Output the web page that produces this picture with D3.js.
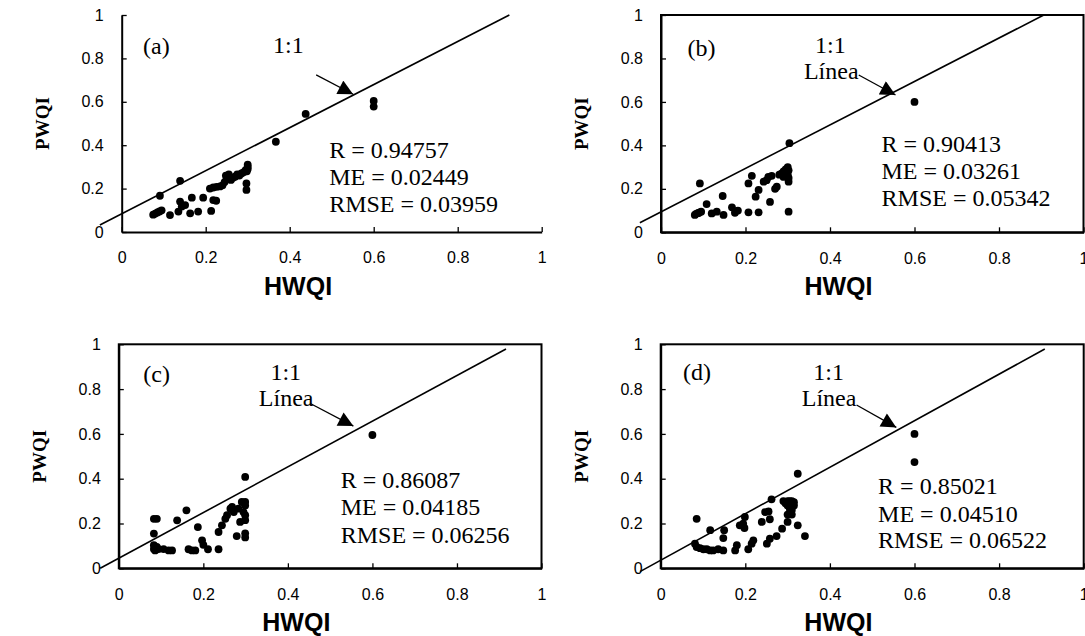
<!DOCTYPE html>
<html>
<head>
<meta charset="utf-8">
<script src="https://cdn.jsdelivr.net/npm/d3@7"></script>
<style>
	body { margin: 0; background: #fff; }
	svg { display: block; }
	.tick text { font-family: "Liberation Sans", Arial, sans-serif; font-size: 16px; fill: #000; }
	.note { font-family: "Liberation Serif", "Times New Roman", serif; font-size: 24px; fill: #000; }
</style>
</head>
<body>
<div id="graph"></div>
<script>
// panel labels and statistics
var panelNames = ['(a)', '(b)', '(c)', '(d)']
var statR = ['0.94757', '0.90413', '0.86087', '0.85021']
var statME = ['0.02449', '0.03261', '0.04185', '0.04510']
var statRMSE = ['0.03959', '0.05342', '0.06256', '0.06522']
var lineText = ['', 'Línea', 'Línea', 'Línea']

var tickValues = [0, 0.2, 0.4, 0.6, 0.8, 1]
var tickLabels = ['0', '0.2', '0.4', '0.6', '0.8', '1']

// HWQI (x) vs PWQI (y)
var pointsA = [[0.075,0.08],[0.08,0.085],[0.085,0.09],[0.09,0.095],[0.095,0.1],[0.091,0.167],[0.115,0.078],
	[0.135,0.094],[0.139,0.14],[0.143,0.117],[0.151,0.124],[0.139,0.236],[0.163,0.086],[0.167,0.158],
	[0.182,0.094],[0.194,0.158],[0.213,0.097],[0.218,0.147],[0.225,0.144],[0.21,0.2],[0.218,0.205],
	[0.226,0.208],[0.234,0.21],[0.24,0.215],[0.245,0.23],[0.248,0.26],[0.25,0.245],[0.255,0.265],
	[0.26,0.24],[0.265,0.25],[0.27,0.255],[0.275,0.265],[0.28,0.26],[0.285,0.27],[0.29,0.275],
	[0.295,0.285],[0.3,0.29],[0.3,0.3],[0.3,0.31],[0.298,0.28],[0.297,0.224],[0.297,0.194],
	[0.367,0.416],[0.438,0.544],[0.6,0.604],[0.6,0.578]]
var pointsB = [[0.08,0.08],[0.083,0.085],[0.087,0.088],[0.09,0.09],[0.095,0.095],[0.092,0.225],[0.108,0.13],
	[0.12,0.087],[0.132,0.095],[0.148,0.08],[0.146,0.167],[0.168,0.115],[0.175,0.09],[0.182,0.1],
	[0.207,0.092],[0.231,0.092],[0.207,0.225],[0.215,0.26],[0.224,0.164],[0.231,0.195],[0.243,0.233],
	[0.25,0.24],[0.254,0.255],[0.262,0.26],[0.258,0.14],[0.27,0.2],[0.274,0.21],[0.285,0.27],
	[0.29,0.28],[0.295,0.29],[0.3,0.3],[0.302,0.285],[0.3,0.265],[0.302,0.25],[0.302,0.233],
	[0.302,0.095],[0.304,0.41],[0.6,0.6],[0.29,0.255],[0.28,0.265]]
var pointsC = [[0.083,0.221],[0.09,0.221],[0.083,0.155],[0.083,0.103],[0.083,0.086],[0.086,0.08],[0.09,0.095],
	[0.094,0.086],[0.106,0.086],[0.118,0.08],[0.126,0.08],[0.138,0.214],[0.16,0.259],[0.165,0.085],
	[0.173,0.08],[0.181,0.08],[0.187,0.184],[0.197,0.125],[0.2,0.105],[0.211,0.085],[0.236,0.162],
	[0.236,0.085],[0.244,0.192],[0.252,0.221],[0.256,0.237],[0.264,0.266],[0.268,0.274],[0.272,0.251],
	[0.283,0.266],[0.287,0.207],[0.291,0.296],[0.295,0.251],[0.299,0.296],[0.299,0.28],[0.299,0.237],
	[0.299,0.215],[0.299,0.156],[0.299,0.138],[0.279,0.144],[0.299,0.408],[0.6,0.595]]
var pointsD = [[0.081,0.11],[0.085,0.095],[0.093,0.09],[0.101,0.085],[0.109,0.085],[0.117,0.08],[0.124,0.08],
	[0.136,0.085],[0.148,0.08],[0.085,0.221],[0.117,0.17],[0.15,0.17],[0.148,0.135],[0.176,0.08],
	[0.18,0.103],[0.187,0.192],[0.195,0.199],[0.199,0.229],[0.198,0.18],[0.207,0.085],[0.215,0.11],
	[0.219,0.125],[0.239,0.207],[0.247,0.251],[0.255,0.254],[0.258,0.219],[0.251,0.11],[0.258,0.132],
	[0.262,0.308],[0.274,0.144],[0.287,0.177],[0.3,0.207],[0.29,0.3],[0.295,0.29],[0.3,0.3],[0.305,0.3],
	[0.31,0.3],[0.315,0.295],[0.3,0.28],[0.305,0.27],[0.31,0.26],[0.305,0.25],[0.3,0.24],[0.31,0.24],
	[0.315,0.28],[0.324,0.192],[0.341,0.144],[0.324,0.422],[0.6,0.6],[0.6,0.474]]
var allPoints = [pointsA, pointsB, pointsC, pointsD]

// hand drawn 1:1 line and arrow ends, in data units
var lineFrom = [[-0.052,0.032],[-0.05,0.044],[-0.044,0],[-0.049,-0.015]]
var lineTo = [[0.923,1],[0.906,1],[0.916,0.979],[0.908,0.979]]
var arrowFrom = [[0.463,0.724],[0.468,0.724],[0.452,0.737],[0.463,0.729]]
var arrowTo = [[0.551,0.635],[0.555,0.632],[0.555,0.635],[0.557,0.629]]

// layout of each panel on the page
var frames = [
	{ left: 121.7, right: 541.7, bottom: 232, top: 15, box: false,
		name: [0.051,0.818], one: [0.397,0.823], linea: [0.4,0.705], stats: [0.494,0.340,0.217,0.091] },
	{ left: 661, right: 1083.5, bottom: 232.3, top: 15, box: true,
		name: [0.063,0.811], one: [0.401,0.826], linea: [0.403,0.705], stats: [0.522,0.371,0.245,0.122] },
	{ left: 118.8, right: 541.5, bottom: 568.3, top: 344.3, box: true,
		name: [0.058,0.833], one: [0.395,0.841], linea: [0.396,0.725], stats: [0.525,0.357,0.238,0.114] },
	{ left: 660.7, right: 1083.7, bottom: 568.3, top: 344.3, box: true,
		name: [0.053,0.841], one: [0.397,0.841], linea: [0.398,0.725], stats: [0.514,0.332,0.208,0.089] }
]

var w = 1085
var h = 636

var svg = d3.select('#graph')
	.append('svg')
	.attr('width', w)
	.attr('height', h)

svg.append('defs')
	.append('marker')
	.attr('id', 'tri')
	.attr('viewBox', '0 0 10 10')
	.attr('refX', 10)
	.attr('refY', 5)
	.attr('markerUnits', 'userSpaceOnUse')
	.attr('markerWidth', 16)
	.attr('markerHeight', 15)
	.attr('orient', 'auto')
	.append('path')
	.attr('d', 'M0,0 L10,5 L0,10 Z')
	.attr('fill', '#000')

frames.forEach(function(f, i) {
	var x = d3.scaleLinear().domain([0, 1]).range([f.left, f.right])
	var y = d3.scaleLinear().domain([0, 1]).range([f.bottom, f.top])
	var g = svg.append('g')

	if (f.box) {
		g.append('rect')
			.attr('x', x(0))
			.attr('y', y(1))
			.attr('width', x(1) - x(0))
			.attr('height', y(0) - y(1))
			.attr('fill', 'none')
			.attr('stroke', '#000')
			.attr('stroke-width', 2)
	}

	var xAxis = d3.axisBottom(x)
		.tickValues(tickValues)
		.tickFormat((d, k) => tickLabels[k])
		.tickSizeInner(-5)
		.tickSizeOuter(0)
		.tickPadding(20)

	var yAxis = d3.axisLeft(y)
		.tickValues(tickValues)
		.tickFormat((d, k) => tickLabels[k])
		.tickSizeInner(-5)
		.tickSizeOuter(0)
		.tickPadding(18)

	g.append('g')
		.attr('transform', 'translate(0,' + y(0) + ')')
		.call(xAxis)
		.call(a => a.select('.domain').attr('stroke-width', 2))
		.call(a => a.selectAll('.tick line').attr('stroke-width', 1.3))

	g.append('g')
		.attr('transform', 'translate(' + x(0) + ',0)')
		.call(yAxis)
		.call(a => a.select('.domain').attr('stroke-width', 2))
		.call(a => a.selectAll('.tick line').attr('stroke-width', 1.3))

	// axis titles
	g.append('text')
		.attr('x', x(0.42))
		.attr('y', y(0) + 63)
		.attr('text-anchor', 'middle')
		.attr('font-family', '"Liberation Sans", Arial, sans-serif')
		.attr('font-weight', 'bold')
		.attr('font-size', 25)
		.text('HWQI')

	g.append('text')
		.attr('transform', 'translate(' + (x(0) - 73) + ',' + y(0.5) + ') rotate(-90)')
		.attr('text-anchor', 'middle')
		.attr('font-family', '"Liberation Serif", "Times New Roman", serif')
		.attr('font-weight', 'bold')
		.attr('font-size', 19)
		.text('PWQI')

	// 1:1 line
	g.append('line')
		.attr('x1', x(lineFrom[i][0]))
		.attr('y1', y(lineFrom[i][1]))
		.attr('x2', x(lineTo[i][0]))
		.attr('y2', y(lineTo[i][1]))
		.attr('stroke', '#000')
		.attr('stroke-width', 1.6)

	g.selectAll('circle')
		.data(allPoints[i])
		.enter()
		.append('circle')
		.attr('cx', d => x(d[0]))
		.attr('cy', d => y(d[1]))
		.attr('r', 3.9)
		.attr('fill', '#000')

	// arrow pointing at the line
	g.append('line')
		.attr('x1', x(arrowFrom[i][0]))
		.attr('y1', y(arrowFrom[i][1]))
		.attr('x2', x(arrowTo[i][0]))
		.attr('y2', y(arrowTo[i][1]))
		.attr('stroke', '#000')
		.attr('stroke-width', 1.3)
		.attr('marker-end', 'url(#tri)')

	g.append('text')
		.attr('class', 'note')
		.attr('x', x(f.name[0]))
		.attr('y', y(f.name[1]))
		.text(panelNames[i])

	g.append('text')
		.attr('class', 'note')
		.attr('x', x(f.one[0]))
		.attr('y', y(f.one[1]))
		.attr('text-anchor', 'middle')
		.text('1:1')

	if (lineText[i]) {
		g.append('text')
			.attr('class', 'note')
			.attr('x', x(f.linea[0]))
			.attr('y', y(f.linea[1]))
			.attr('text-anchor', 'middle')
			.text(lineText[i])
	}

	var stats = ['R = ' + statR[i], 'ME = ' + statME[i], 'RMSE = ' + statRMSE[i]]
	stats.forEach(function(s, k) {
		g.append('text')
			.attr('class', 'note')
			.attr('x', x(f.stats[0]))
			.attr('y', y(f.stats[k + 1]))
			.text(s)
	})
})
</script>
</body>
</html>
